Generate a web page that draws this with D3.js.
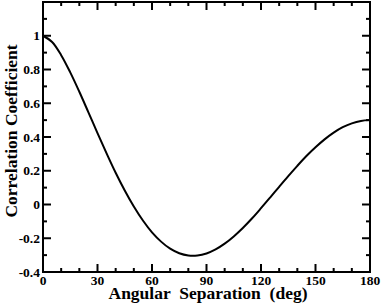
<!DOCTYPE html>
<html>
<head>
<meta charset="utf-8">
<script src="https://cdn.jsdelivr.net/npm/d3@7"></script>
<style>
body { margin: 0; background: #fff; }
</style>
</head>
<body>
<script>
var w = 382;
var h = 306;
var margin = {left: 43, right: 12, top: 2, bottom: 34};
var font = "'Liberation Serif', 'Times New Roman', Times, serif";

// angular separation (deg) and correlation coefficient
var angles = [0, 5, 10, 15, 20, 25, 30, 35, 40, 45, 50, 55, 60, 65, 70, 75, 80, 85, 90,
  95, 100, 105, 110, 115, 120, 125, 130, 135, 140, 145, 150, 155, 160, 165, 170, 175, 180];
var corr = [1, 0.963, 0.885, 0.783, 0.668, 0.546, 0.423, 0.303, 0.188, 0.083, -0.012,
  -0.095, -0.165, -0.220, -0.262, -0.289, -0.302, -0.302, -0.290, -0.266, -0.232, -0.189,
  -0.139, -0.083, -0.022, 0.041, 0.105, 0.168, 0.229, 0.287, 0.339, 0.386, 0.426, 0.458,
  0.481, 0.495, 0.5];
var xTicks = [0, 30, 60, 90, 120, 150, 180];
var yTicks = [-0.4, -0.2, 0, 0.2, 0.4, 0.6, 0.8, 1];
var yTickText = ["-0.4", "-0.2", "0", "0.2", "0.4", "0.6", "0.8", "1"];

var svg = d3.select("body").append("svg")
  .attr("width", w)
  .attr("height", h);

var x = d3.scaleLinear().domain([0, 180]).range([margin.left, w - margin.right]);
var y = d3.scaleLinear().domain([-0.4, 1.2]).range([h - margin.bottom, margin.top]);

var x0 = x(0), x1 = x(180), y0 = y(-0.4), y1 = y(1.2);

// ticks, pointing inward on all four sides
var minorX = d3.range(0, 181, 10);
var minorY = d3.range(-4, 13, 1).map(function(d) { return d / 10; });

var g = svg.append("g").attr("stroke", "#000").attr("stroke-width", 2);

minorX.forEach(function(v) {
  var len = v % 30 === 0 ? 8 : 4;
  g.append("line").attr("x1", x(v)).attr("x2", x(v)).attr("y1", y0).attr("y2", y0 - len);
  g.append("line").attr("x1", x(v)).attr("x2", x(v)).attr("y1", y1).attr("y2", y1 + len);
});
minorY.forEach(function(v) {
  var len = Math.round(v * 10) % 2 === 0 ? 8 : 4;
  g.append("line").attr("x1", x0).attr("x2", x0 + len).attr("y1", y(v)).attr("y2", y(v));
  g.append("line").attr("x1", x1).attr("x2", x1 - len).attr("y1", y(v)).attr("y2", y(v));
});

// frame
svg.append("rect")
  .attr("x", x0).attr("y", y1)
  .attr("width", x1 - x0).attr("height", y0 - y1)
  .attr("fill", "none").attr("stroke", "#000").attr("stroke-width", 2);

// tick labels
svg.selectAll(".xl").data(xTicks).enter().append("text")
  .attr("x", function(d) { return x(d); })
  .attr("y", y0 + 13)
  .attr("text-anchor", "middle")
  .attr("font-family", font)
  .attr("font-weight", "bold")
  .attr("font-size", 13.5)
  .text(function(d) { return d; });

svg.selectAll(".yl").data(yTicks).enter().append("text")
  .attr("x", x0 - 3)
  .attr("y", function(d) { return y(d) + 4.5; })
  .attr("text-anchor", "end")
  .attr("font-family", font)
  .attr("font-weight", "bold")
  .attr("font-size", 13.5)
  .text(function(d, i) { return yTickText[i]; });

// axis titles
svg.append("text")
  .attr("x", 208)
  .attr("y", 299)
  .attr("text-anchor", "middle")
  .attr("font-family", font)
  .attr("font-weight", "bold")
  .attr("font-size", 17.5)
  .style("white-space", "pre")
  .text("Angular  Separation  (deg)");

svg.append("text")
  .attr("transform", "translate(17,131) rotate(-90)")
  .attr("text-anchor", "middle")
  .attr("font-family", font)
  .attr("font-weight", "bold")
  .attr("font-size", 17.5)
  .text("Correlation Coefficient");

// curve
var pts = angles.map(function(a, i) { return [a, corr[i]]; });
var line = d3.line()
  .x(function(d) { return x(d[0]); })
  .y(function(d) { return y(d[1]); })
  .curve(d3.curveCatmullRom);

svg.append("path")
  .datum(pts)
  .attr("d", line)
  .attr("fill", "none")
  .attr("stroke", "#000")
  .attr("stroke-width", 2);
</script>
</body>
</html>
